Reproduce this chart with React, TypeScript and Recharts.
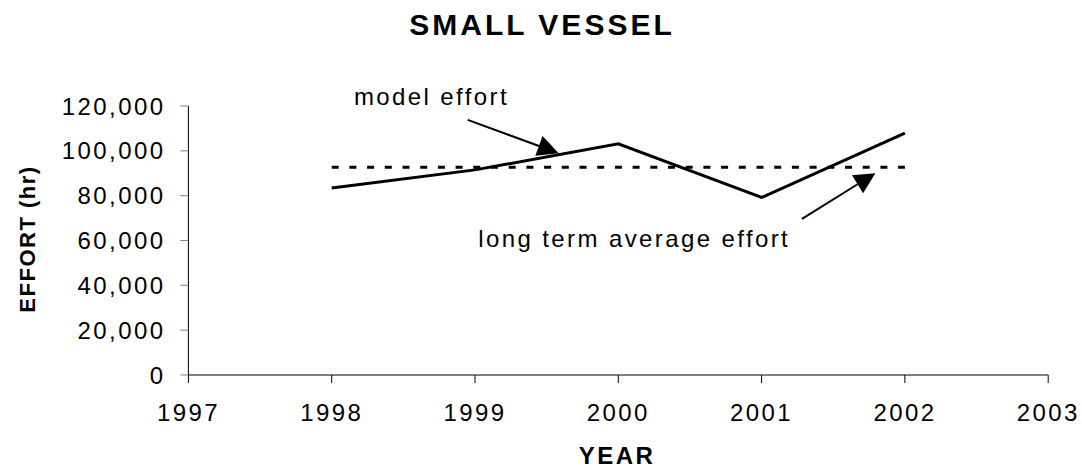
import React from "react";
import { LineChart, Line, XAxis, YAxis, ReferenceLine, ReferenceDot } from "recharts";

// ---- data ----
const years = [1998, 1999, 2000, 2001, 2002];
const modelEffort = [83400, 91500, 103100, 79200, 107900];
const averageEffort = [92700, 92700, 92700, 92700, 92700];
const xTicks = [1997, 1998, 1999, 2000, 2001, 2002, 2003];
const yTicks = [0, 20000, 40000, 60000, 80000, 100000, 120000];

// annotation arrows: [startYear, startValue, tipYear, tipValue]
const arrowModel = [1998.949, 113800, 1999.584, 98970];
const arrowAverage = [2001.282, 69640, 2001.794, 90040];
// annotation labels: [text, year, value(baseline)]
const labelModel = ["model effort", 1998.696, 120400];
const labelAverage = ["long term average effort", 2000.111, 57230];

const data = years.map((y, i) => ({ year: y, model: modelEffort[i], average: averageEffort[i] }));

const FONT = '"Liberation Sans", Arial, sans-serif';

const XTick = (props: any) => {
  const { x, y, payload } = props;
  return (
    <text x={x} y={y} dy={38} textAnchor="middle" fontFamily={FONT} fontSize={24}
      style={{ letterSpacing: "2.4px" }} fill="#000">
      {payload.value}
    </text>
  );
};

const YTick = (props: any) => {
  const { x, y, payload } = props;
  return (
    <text x={x} y={y} dx={-15} dy={8.6} textAnchor="end" fontFamily={FONT} fontSize={24}
      style={{ letterSpacing: "2.4px" }} fill="#000">
      {Number(payload.value).toLocaleString("en-US")}
    </text>
  );
};

const ArrowShape = (props: any) => {
  const { x1, y1, x2, y2 } = props;
  const dx = x2 - x1;
  const dy = y2 - y1;
  const len = Math.sqrt(dx * dx + dy * dy) || 1;
  const ux = dx / len;
  const uy = dy / len;
  const hl = 21;
  const hw = 10.5;
  const bx = x2 - ux * hl;
  const by = y2 - uy * hl;
  const px = -uy;
  const py = ux;
  return (
    <g>
      <line x1={x1} y1={y1} x2={bx} y2={by} stroke="#000" strokeWidth={2} />
      <polygon
        points={`${x2},${y2} ${bx + px * hw},${by + py * hw} ${bx - px * hw},${by - py * hw}`}
        fill="#000"
      />
    </g>
  );
};

const makeLabel = (text: string) => (props: any) => {
  const { cx, cy } = props;
  return (
    <text x={cx} y={cy} textAnchor="middle" fontFamily={FONT} fontSize={24}
      style={{ letterSpacing: "2.4px" }} fill="#000">
      {text}
    </text>
  );
};

export default function App() {
  return (
    <div style={{ position: "absolute", left: 0, top: 0, width: 1082, height: 470, background: "#fff" }}>
      <LineChart
        width={1082}
        height={470}
        data={data}
        margin={{ top: 106, right: 33.8, bottom: 35, left: 18.4 }}
      >
        <text x={542} y={35} textAnchor="middle" fontFamily={FONT} fontSize={30} fontWeight="bold"
          style={{ letterSpacing: "3px" }} fill="#000">
          SMALL VESSEL
        </text>
        <text x={617} y={464} textAnchor="middle" fontFamily={FONT} fontSize={24} fontWeight="bold"
          style={{ letterSpacing: "2.5px" }} fill="#000">
          YEAR
        </text>
        <text x={35} y={239} textAnchor="middle" fontFamily={FONT} fontSize={22} fontWeight="bold"
          transform="rotate(-90 35 239)" style={{ letterSpacing: "1.5px" }} fill="#000">
          EFFORT (hr)
        </text>
        <XAxis
          dataKey="year"
          type="number"
          domain={[1997, 2003]}
          ticks={xTicks}
          height={60}
          tickSize={8}
          tickMargin={0}
          axisLine={{ stroke: "#808080", strokeWidth: 2 }}
          tickLine={{ stroke: "#000", strokeWidth: 1 }}
          tick={<XTick />}
          allowDataOverflow
        />
        <YAxis
          type="number"
          domain={[0, 120000]}
          ticks={yTicks}
          width={170}
          tickSize={8}
          tickMargin={0}
          axisLine={{ stroke: "#000", strokeWidth: 1 }}
          tickLine={{ stroke: "#808080", strokeWidth: 1 }}
          tick={<YTick />}
          allowDataOverflow
        />
        <Line
          type="linear"
          dataKey="average"
          stroke="#000"
          strokeWidth={3}
          strokeDasharray="7 10.7"
          dot={false}
          activeDot={false}
          isAnimationActive={false}
        />
        <Line
          type="linear"
          dataKey="model"
          stroke="#000"
          strokeWidth={3}
          dot={false}
          activeDot={false}
          isAnimationActive={false}
        />
        <ReferenceLine
          segment={[{ x: arrowModel[0], y: arrowModel[1] }, { x: arrowModel[2], y: arrowModel[3] }]}
          shape={ArrowShape}
          ifOverflow="visible"
        />
        <ReferenceLine
          segment={[{ x: arrowAverage[0], y: arrowAverage[1] }, { x: arrowAverage[2], y: arrowAverage[3] }]}
          shape={ArrowShape}
          ifOverflow="visible"
        />
        <ReferenceDot
          x={labelModel[1] as number}
          y={labelModel[2] as number}
          r={0}
          ifOverflow="visible"
          shape={makeLabel(labelModel[0] as string)}
        />
        <ReferenceDot
          x={labelAverage[1] as number}
          y={labelAverage[2] as number}
          r={0}
          ifOverflow="visible"
          shape={makeLabel(labelAverage[0] as string)}
        />
      </LineChart>
    </div>
  );
}
